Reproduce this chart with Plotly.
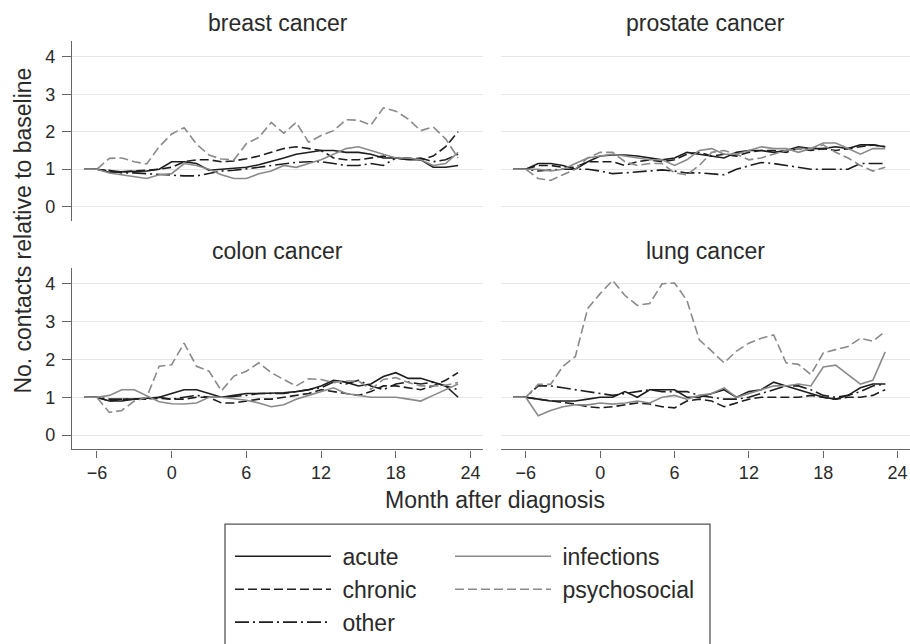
import plotly.graph_objects as go

months = list(range(-7, 24))

panels = ["breast cancer", "prostate cancer", "colon cancer", "lung cancer"]
series = ["acute", "chronic", "other", "infections", "psychosocial"]

breast_acute = [1, 1, 0.92, 0.93, 0.93, 0.95, 1.0, 1.2, 1.2, 1.15, 0.97, 1.0, 1.02, 1.05, 1.12, 1.2, 1.3, 1.4, 1.45, 1.5, 1.5, 1.45, 1.45, 1.4, 1.3, 1.3, 1.25, 1.25, 1.05, 1.05, 1.1]
breast_chronic = [1, 1, 0.95, 0.93, 0.95, 0.97, 1.0, 1.05, 1.2, 1.25, 1.25, 1.2, 1.22, 1.28, 1.35, 1.45, 1.55, 1.6, 1.55, 1.5, 1.3, 1.25, 1.25, 1.3, 1.35, 1.3, 1.3, 1.25, 1.35, 1.6, 2.0]
breast_other = [1, 1, 0.97, 0.9, 0.9, 0.88, 0.85, 0.83, 0.82, 0.82, 0.88, 0.95, 0.97, 1.0, 1.05, 1.1, 1.15, 1.18, 1.2, 1.2, 1.15, 1.1, 1.1, 1.15, 1.1, 1.3, 1.25, 1.3, 1.2, 1.25, 1.4]
breast_infections = [1, 1, 0.9, 0.85, 0.82, 0.75, 0.85, 0.88, 1.15, 1.1, 1.0, 0.85, 0.75, 0.75, 0.88, 0.95, 1.1, 1.05, 1.15, 1.25, 1.4, 1.55, 1.6, 1.5, 1.4, 1.3, 1.3, 1.25, 1.1, 1.15, 1.45]
breast_psychosocial = [1, 1, 1.29, 1.3, 1.2, 1.14, 1.6, 1.94, 2.11, 1.67, 1.38, 1.27, 1.25, 1.68, 1.85, 2.25, 1.96, 2.25, 1.72, 1.9, 2.03, 2.32, 2.31, 2.18, 2.64, 2.55, 2.34, 2.03, 2.13, 1.81, 1.3]

prostate_acute = [1, 1, 1.15, 1.15, 1.1, 1.0, 1.2, 1.35, 1.38, 1.38, 1.35, 1.3, 1.25, 1.3, 1.45, 1.4, 1.35, 1.3, 1.45, 1.5, 1.5, 1.45, 1.5, 1.6, 1.55, 1.55, 1.6, 1.55, 1.65, 1.65, 1.6]
prostate_chronic = [1, 1, 1.1, 1.1, 1.05, 1.05, 1.2, 1.2, 1.2, 1.1, 1.2, 1.25, 1.2, 1.25, 1.4, 1.45, 1.35, 1.4, 1.35, 1.45, 1.5, 1.5, 1.45, 1.55, 1.5, 1.55, 1.5, 1.55, 1.6, 1.65, 1.6]
prostate_other = [1, 1, 0.95, 0.98, 1.0, 1.0, 1.0, 0.95, 0.88, 0.9, 0.92, 0.95, 0.98, 0.95, 0.9, 0.9, 0.88, 0.85, 1.0, 1.1, 1.18, 1.15, 1.1, 1.05, 1.0, 1.0, 1.0, 1.0, 1.15, 1.15, 1.15]
prostate_infections = [1, 1, 1.0, 0.95, 1.0, 1.15, 1.3, 1.35, 1.4, 1.35, 1.3, 1.25, 1.25, 1.1, 1.25, 1.5, 1.55, 1.4, 1.4, 1.5, 1.6, 1.55, 1.55, 1.45, 1.55, 1.7, 1.7, 1.55, 1.4, 1.55, 1.55]
prostate_psychosocial = [1, 1, 0.75, 0.7, 0.85, 1.0, 1.3, 1.45, 1.45, 1.2, 1.1, 1.15, 1.15, 0.9, 0.85, 1.1, 1.45, 1.5, 1.4, 1.25, 1.3, 1.4, 1.5, 1.55, 1.55, 1.65, 1.45, 1.3, 1.1, 0.95, 1.05]

colon_acute = [1, 1, 0.9, 0.9, 0.95, 0.97, 1.0, 1.1, 1.2, 1.2, 1.1, 1.0, 1.05, 1.1, 1.1, 1.1, 1.12, 1.15, 1.2, 1.3, 1.45, 1.4, 1.3, 1.35, 1.55, 1.65, 1.5, 1.5, 1.4, 1.3, 1.0]
colon_chronic = [1, 1, 0.9, 0.95, 0.95, 0.97, 0.97, 0.95, 0.95, 1.0, 1.0, 0.85, 0.85, 0.9, 0.95, 0.95, 1.0, 1.05, 1.1, 1.2, 1.15, 1.1, 1.05, 1.15, 1.3, 1.3, 1.25, 1.2, 1.3, 1.45, 1.65]
colon_other = [1, 1, 0.95, 0.95, 0.95, 0.95, 1.0, 0.95, 1.0, 1.05, 1.0, 1.0, 1.02, 1.05, 1.1, 1.1, 1.1, 1.15, 1.2, 1.25, 1.4, 1.35, 1.45, 1.3, 1.2, 1.35, 1.4, 1.35, 1.4, 1.3, 1.2]
colon_infections = [1, 1, 1.05, 1.2, 1.2, 1.05, 0.88, 0.83, 0.82, 0.85, 1.0, 1.0, 0.95, 0.92, 0.85, 0.75, 0.8, 0.95, 1.05, 1.15, 1.25, 1.1, 1.05, 1.0, 1.0, 1.0, 0.95, 0.9, 1.05, 1.2, 1.35]
colon_psychosocial = [1, 1, 0.6, 0.65, 0.9, 1.0, 1.82, 1.86, 2.43, 1.82, 1.69, 1.17, 1.56, 1.69, 1.91, 1.65, 1.47, 1.3, 1.49, 1.47, 1.39, 1.43, 1.43, 1.21, 1.47, 1.52, 1.39, 1.3, 1.3, 1.32, 1.39]

lung_acute = [1, 1, 0.95, 0.9, 0.9, 0.9, 0.95, 1.0, 1.0, 1.15, 1.0, 1.2, 1.2, 1.2, 1.0, 1.0, 1.1, 1.2, 1.0, 1.15, 1.2, 1.4, 1.3, 1.2, 1.1, 1.0, 0.95, 1.05, 1.25, 1.35, 1.35]
lung_chronic = [1, 1, 0.95, 0.9, 0.85, 0.82, 0.75, 0.72, 0.75, 0.8, 0.85, 0.82, 0.75, 0.72, 0.9, 0.95, 0.9, 0.75, 0.85, 0.95, 1.0, 1.0, 1.0, 1.0, 1.05, 1.0, 0.95, 1.0, 1.0, 1.05, 1.2]
lung_other = [1, 1, 1.3, 1.3, 1.25, 1.2, 1.15, 1.1, 1.05, 1.1, 1.15, 1.2, 1.15, 1.15, 1.15, 1.05, 1.0, 0.95, 0.95, 1.0, 1.1, 1.2, 1.3, 1.3, 1.2, 1.05, 1.0, 1.05, 1.15, 1.3, 1.35]
lung_infections = [1, 1, 0.51, 0.65, 0.75, 0.8, 0.8, 0.85, 0.82, 0.85, 0.9, 0.85, 1.0, 1.05, 0.95, 1.05, 1.1, 1.25, 1.0, 1.1, 1.2, 1.3, 1.3, 1.35, 1.3, 1.8, 1.85, 1.6, 1.35, 1.45, 2.2]
lung_psychosocial = [1, 1, 1.34, 1.34, 1.82, 2.08, 3.35, 3.74, 4.09, 3.69, 3.43, 3.48, 4.0, 4.02, 3.56, 2.52, 2.22, 1.91, 2.22, 2.43, 2.56, 2.65, 1.91, 1.87, 1.6, 2.17, 2.26, 2.34, 2.56, 2.48, 2.74]

data = {
    "breast cancer": [breast_acute, breast_chronic, breast_other, breast_infections, breast_psychosocial],
    "prostate cancer": [prostate_acute, prostate_chronic, prostate_other, prostate_infections, prostate_psychosocial],
    "colon cancer": [colon_acute, colon_chronic, colon_other, colon_infections, colon_psychosocial],
    "lung cancer": [lung_acute, lung_chronic, lung_other, lung_infections, lung_psychosocial],
}

x_ticks = [-6, 0, 6, 12, 18, 24]
x_tick_labels = ["\u22126", "0", "6", "12", "18", "24"]
y_ticks = [0, 1, 2, 3, 4]

BLACK = "#1e1e1e"
GRAY = "#8a8a8a"
styles = {
    "acute": dict(color=BLACK, dash="solid"),
    "chronic": dict(color=BLACK, dash="9px,4px"),
    "other": dict(color=BLACK, dash="14px,4px,2px,4px"),
    "infections": dict(color=GRAY, dash="solid"),
    "psychosocial": dict(color=GRAY, dash="9px,4px"),
}
legend_of = {"acute": "legend", "chronic": "legend", "other": "legend",
             "infections": "legend2", "psychosocial": "legend2"}

W, H = 910, 644
def px(x):
    return x / W
def py(y):
    return 1 - y / H

xdom = [[px(72), px(483)], [px(501), 1.0]]
ydom = [[py(225), py(42)], [py(458), py(273)]]
title_y = [23, 256]

fig = go.Figure()
FONT = "Liberation Sans, Arial, sans-serif"
TXT = "#2a2a2a"

for i, name in enumerate(panels):
    r, c = divmod(i, 2)
    ax = "" if i == 0 else str(i + 1)
    for j, s in enumerate(series):
        fig.add_trace(go.Scatter(
            x=months, y=data[name][j], mode="lines", name="\u00a0" + s,
            line=dict(color=styles[s]["color"], dash=styles[s]["dash"], width=1.6),
            xaxis="x" + ax, yaxis="y" + ax,
            showlegend=(i == 0), legend=legend_of[s],
        ))
    xa = dict(domain=xdom[c], range=[-8, 25], tickvals=x_ticks, ticktext=x_tick_labels,
              showgrid=False, zeroline=False, anchor="y" + ax, automargin=False,
              tickfont=dict(size=18, color=TXT, family=FONT))
    if r == 1:
        xa.update(showline=True, linecolor="#666", linewidth=1.3, ticks="outside",
                  ticklen=7, tickcolor="#666", showticklabels=True)
    else:
        xa.update(showline=False, ticks="", showticklabels=False)
    ya = dict(domain=ydom[r], range=[-0.38, 4.42], tickvals=y_ticks,
              showgrid=True, gridcolor="#e6e6e6", gridwidth=1.3, zeroline=False,
              anchor="x" + ax, automargin=False,
              tickfont=dict(size=18, color=TXT, family=FONT))
    if c == 0:
        ya.update(showline=True, linecolor="#666", linewidth=1.3, ticks="outside",
                  ticklen=9, tickcolor="#666", showticklabels=True, ticklabelstandoff=3)
    else:
        ya.update(showline=False, ticks="", showticklabels=False)
    fig.update_layout(**{"xaxis" + ax: xa, "yaxis" + ax: ya})
    fig.add_annotation(text=name, xref="paper", yref="paper",
                       x=(xdom[c][0] + xdom[c][1]) / 2, y=py(title_y[r]),
                       xanchor="center", yanchor="middle", showarrow=False,
                       font=dict(size=23, color=TXT, family=FONT))

fig.add_annotation(text="No. contacts relative to baseline", xref="paper", yref="paper",
                   x=px(23), y=py(235), textangle=-90, showarrow=False,
                   xanchor="center", yanchor="middle",
                   font=dict(size=23, color=TXT, family=FONT))
fig.add_annotation(text="Month after diagnosis", xref="paper", yref="paper",
                   x=px(495), y=py(510), showarrow=False,
                   xanchor="center", yanchor="middle",
                   font=dict(size=23, color=TXT, family=FONT))

fig.add_shape(type="rect", xref="paper", yref="paper",
              x0=px(225), x1=px(710), y0=-0.05, y1=py(534),
              line=dict(color="#555", width=1.3), fillcolor="rgba(0,0,0,0)")

leg_common = dict(bgcolor="rgba(0,0,0,0)", borderwidth=0, itemwidth=96,
                  font=dict(size=23, color=TXT, family=FONT),
                  orientation="v", yanchor="top", xanchor="left",
                  tracegroupgap=0, itemclick=False, itemdoubleclick=False)
fig.update_layout(
    width=W, height=H,
    margin=dict(l=0, r=0, t=0, b=0),
    paper_bgcolor="white", plot_bgcolor="white",
    legend=dict(x=px(230), y=py(545), **leg_common),
    legend2=dict(x=px(450), y=py(545), **leg_common),
)

fig.write_html("out.html",
               config={"displayModeBar": False},
               post_script="document.body.style.margin='0';document.body.style.overflow='hidden';")
